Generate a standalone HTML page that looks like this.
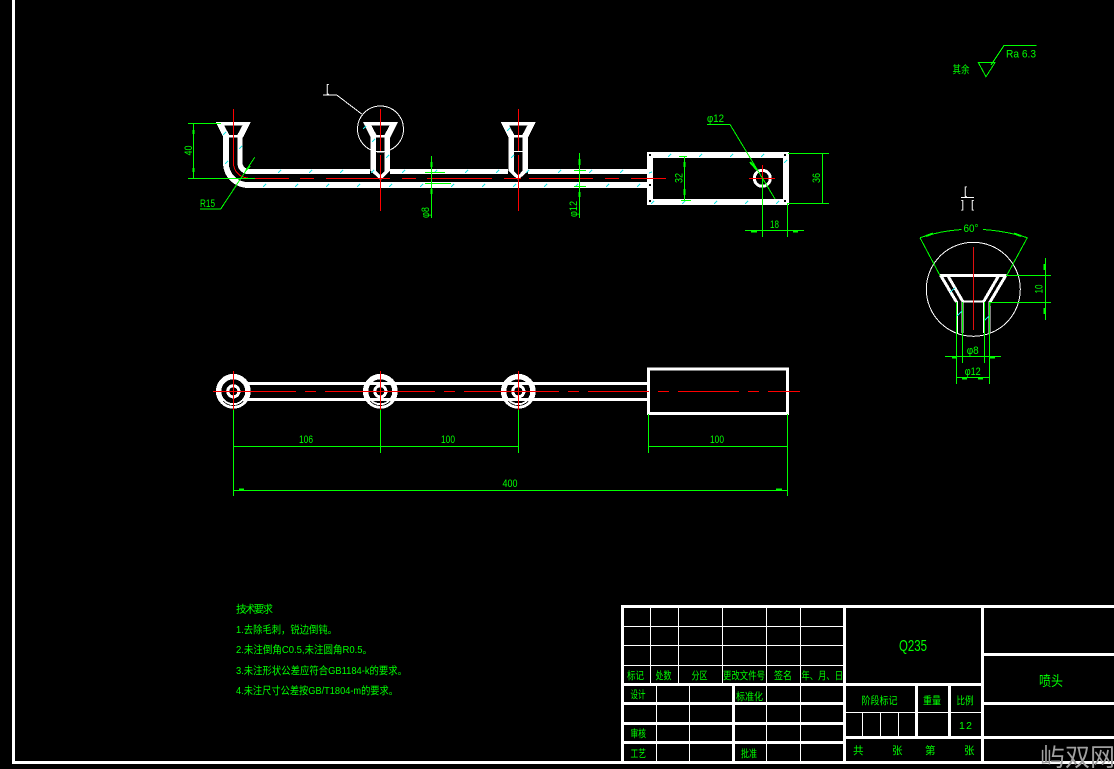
<!DOCTYPE html>
<html>
<head>
<meta charset="utf-8">
<style>
html,body{margin:0;padding:0;background:#000;width:1114px;height:769px;overflow:hidden}
svg{display:block}
text{font-family:"Liberation Sans","Noto Sans CJK SC",sans-serif;fill:#00ff00}
.c{font-size:10.5px}
.n{font-size:11px}
.w{fill:#fff}
</style>
</head>
<body>
<svg width="1114" height="769" viewBox="0 0 1114 769" xmlns="http://www.w3.org/2000/svg" shape-rendering="crispEdges">
<defs>
<g id="funnel">
  <path fill="#fff" fill-rule="evenodd" d="M-17.5 122H17.5L9.8 137.5H-9.8ZM-9 125.7H9L4 135H-4Z"/>
</g>
<g id="ctube">
  <rect x="-9.8" y="137" width="5.3" height="34" fill="#fff"/>
  <rect x="4" y="137" width="5.5" height="34" fill="#fff"/>
  <path d="M-9.8 171L0 180L9.5 171L4 171L0 175.5L-4.5 171Z" fill="#fff"/>
  <rect x="-5" y="151" width="10" height="1" fill="#fff"/>
</g>
<g id="hub">
  <circle r="14.7" fill="none" stroke="#fff" stroke-width="5.4"/>
  <path d="M-10 10A14 14 0 0 0 10 10" fill="none" stroke="#000" stroke-width="0.8"/>
  <circle r="5.6" fill="none" stroke="#fff" stroke-width="3"/>
</g>
</defs>
<rect width="1114" height="769" fill="#000"/>

<!-- frame -->
<rect x="12" y="0" width="3" height="764" fill="#fff"/>
<rect x="12" y="761" width="1102" height="3" fill="#fff"/>

<!-- top view: pipe -->
<g fill="none" stroke="#fff">
  <path stroke-width="5.8" d="M226 137V163A22 22 0 0 0 248 185H648"/>
  <path stroke-width="5.2" d="M240 137V163A8.5 8.5 0 0 0 248 171.5H648"/>
</g>
<rect x="370" y="160" width="20" height="14" fill="#000"/>
<rect x="508" y="160" width="20" height="14" fill="#000"/>
<use href="#funnel" x="233.3"/>
<use href="#funnel" x="380.5"/>
<use href="#funnel" x="518.3"/>
<use href="#ctube" x="380.5"/>
<use href="#ctube" x="518.3"/>
<!-- box -->
<rect x="650" y="155" width="136" height="47" fill="none" stroke="#fff" stroke-width="6"/>
<rect x="653" y="174" width="1" height="8" fill="#000"/>
<circle cx="762.3" cy="178.3" r="8" fill="none" stroke="#fff" stroke-width="3"/>
<g fill="#000">
<rect x="649" y="154" width="2" height="2"/><rect x="784" y="154" width="2" height="2"/>
<rect x="649" y="200" width="2" height="2"/><rect x="784" y="200" width="2" height="2"/>
<rect x="649" y="184" width="2" height="2"/>
</g>

<!-- hatch ticks -->
<g stroke="#19e6e6" stroke-width="1" fill="none">
<path d="M278 173l3-3M309 173l3-3M340 173l3-3M371 173l3-3M402 173l3-3M434 173l3-3M465 173l3-3M496 173l3-3M526 173l3-3M558 173l3-3M589 173l3-3M620 173l3-3"/>
<path d="M263 187l3-3M295 187l3-3M326 187l3-3M357 187l3-3M389 187l3-3M420 187l3-3M451 187l3-3M482 187l3-3M513 187l3-3M544 187l3-3M575 187l3-3M606 187l3-3M637 187l3-3"/>
<path d="M668 157l3-3M699 157l3-3M730 157l3-3M761 157l3-3M651 204l3-3M682 204l3-3M714 204l3-3M745 204l3-3M776 204l3-3M784 163l3-3M649 173l3-1"/>
<path d="M223 135l3-3M239 149l3-3M225 164l3-3M372 142l3-3M386 158l3-3M507 131l3-3M511 158l3-3M363 129l3-3"/>
</g>

<!-- top view red centre lines -->
<g stroke="#ff0000" stroke-width="1" fill="none">
<path d="M233.5 109V163A15 15 0 0 0 248 178"/>
</g>
<g fill="#ff0000">
<rect x="255" y="178" width="34" height="1"/><rect x="300" y="178" width="14" height="1"/>
<rect x="326" y="178" width="64" height="1"/><rect x="402" y="178" width="14" height="1"/>
<rect x="427" y="178" width="65" height="1"/><rect x="504" y="178" width="14" height="1"/>
<rect x="518" y="178" width="3" height="1"/>
<rect x="529" y="178" width="64" height="1"/><rect x="605" y="178" width="14" height="1"/>
<rect x="631" y="178" width="35" height="1"/>
<rect x="380" y="109" width="1" height="42"/><rect x="380" y="155" width="1" height="56"/>
<rect x="518" y="109" width="1" height="42"/><rect x="518" y="155" width="1" height="56"/>
<rect x="749" y="178" width="26" height="1"/><rect x="762" y="165" width="1" height="14"/>
</g>

<!-- section detail circle and leader -->
<g fill="none" stroke="#fff" stroke-width="1">
<circle cx="380.5" cy="129" r="23"/>
<path d="M323 95H336.7L361.7 114"/>
</g>
<text class="w" x="326" y="92" font-size="11">[</text>

<!-- top view dims -->
<g stroke="#00ff00" stroke-width="1" fill="none">
<path d="M188 123.5H221M188 178.5H255M193.5 123V178"/>
<path d="M200 209H220.7L254.7 157.3"/>
<path d="M431.5 156V218M425 172.5H445M425 183.5H451"/>
<path d="M579.5 153V218M574 170.5H586M574 186.5H586"/>
<path d="M684.5 156V200M679 156.5H687M681 200.5H691"/>
<path d="M707 124.5H730L775 199"/>
<path d="M788 153.5H829M787 203.5H829M822.5 153V203"/>
<path d="M745 230.5H804M762.5 178V237M787.5 203V237"/>
</g>
<g stroke="#00ff00" stroke-width="2" fill="none">
<path d="M193.5 130V134M193.5 168V172M431.5 162V167M431.5 189V194M579.5 159V165M579.5 192V197M684.5 162V167M684.5 189V195M751 231.5H757M793 231.5H798M750 162L757 170M246 170L250 166"/>
</g>
<text class="n" transform="translate(192 150.5) rotate(-90)" text-anchor="middle" textLength="10" lengthAdjust="spacingAndGlyphs">40</text>
<text class="n" x="200" y="207" textLength="15" lengthAdjust="spacingAndGlyphs">R15</text>
<text class="n" transform="translate(429 212.5) rotate(-90)" text-anchor="middle" textLength="11" lengthAdjust="spacingAndGlyphs">φ8</text>
<text class="n" transform="translate(577 209) rotate(-90)" text-anchor="middle" textLength="16" lengthAdjust="spacingAndGlyphs">φ12</text>
<text class="n" transform="translate(682.5 178) rotate(-90)" text-anchor="middle" textLength="10" lengthAdjust="spacingAndGlyphs">32</text>
<text class="n" transform="translate(820 178) rotate(-90)" text-anchor="middle" textLength="10" lengthAdjust="spacingAndGlyphs">36</text>
<text class="n" x="707" y="122" textLength="17" lengthAdjust="spacingAndGlyphs">φ12</text>
<text class="n" x="770" y="228" textLength="9" lengthAdjust="spacingAndGlyphs">18</text>

<!-- section view -->
<text class="w" x="964" y="194.5" font-size="11">[</text>
<rect x="961" y="197" width="13" height="1" fill="#fff"/>
<text class="w" x="961" y="208" font-size="11" textLength="13" lengthAdjust="spacing">] [</text>

<g fill="none" stroke="#fff" stroke-width="1"><circle cx="973.3" cy="289.3" r="47"/></g>
<g fill="none" stroke="#fff">
<path stroke-width="2.8" d="M939.5 275.5H1006.5"/>
<path stroke-width="3" d="M941 276L956.5 302M1005.5 276L990 302"/>
<path stroke-width="3" d="M948 276L962.5 301M998.5 276L984 301"/>
<path stroke-width="2" d="M957 301V333M989.7 301V333"/>
<path stroke-width="2" d="M962.3 301V333M984 301V333"/>
<path stroke-width="2.4" d="M962 301.5H984.5"/>
</g>
<path d="M957 316l5-5M984 321l5-5M950 292l5-4" stroke="#19e6e6" stroke-width="1" fill="none"/>
<rect x="973" y="247" width="1" height="83" fill="#e01010"/>
<g stroke="#00ff00" stroke-width="1" fill="none">
<path d="M920 237.7L940 275.5M1027.3 237.7L1006.7 275.5"/>
<path d="M920 237.7Q940 231 961.5 229.5M983 229.5Q1006 231 1027.3 237.7"/>
<path d="M1006 275.5H1051M990 302.5H1051M990 302V306M1045.5 258V320"/>
<path d="M962.5 302V363M984.5 302V363M945 356.5H1001"/>
<path d="M956.5 302V384M989.5 302V384M956 377.5H990"/>
</g>
<g stroke="#00ff00" stroke-width="2" fill="none">
<path d="M926 236L933 233.5M1014 233.5L1021 236M1044.5 264V270M1044.5 308V314M952 357.5H957M990 357.5H995M962 378.5H967M978 378.5H983"/>
</g>
<text class="n" x="971" y="232" text-anchor="middle" textLength="15" lengthAdjust="spacingAndGlyphs">60°</text>
<text class="n" transform="translate(1042.5 289) rotate(-90)" text-anchor="middle" textLength="9" lengthAdjust="spacingAndGlyphs">10</text>
<text class="n" x="972.7" y="354" text-anchor="middle" textLength="12" lengthAdjust="spacingAndGlyphs">φ8</text>
<text class="n" x="972.7" y="375" text-anchor="middle" textLength="16" lengthAdjust="spacingAndGlyphs">φ12</text>

<!-- roughness -->
<path d="M978.3 62.5H995L986 76.7ZM991 65L1004 45.5H1036.7" fill="none" stroke="#00ff00" stroke-width="1"/>
<text class="n" x="1006" y="57.5" textLength="30" lengthAdjust="spacingAndGlyphs">Ra 6.3</text>
<text class="c" x="952.5" y="73" textLength="17" lengthAdjust="spacingAndGlyphs">其余</text>

<!-- front view -->
<g fill="#fff">
<rect x="245" y="382" width="404" height="3"/>
<rect x="245" y="398" width="404" height="3"/>
</g>
<rect x="648.5" y="369" width="139" height="44.5" fill="none" stroke="#fff" stroke-width="2.6"/>
<use href="#hub" x="233.3" y="391.3"/>
<use href="#hub" x="380.3" y="391.3"/>
<use href="#hub" x="518.3" y="391.3"/>
<g fill="#ff0000">
<rect x="213" y="391" width="83" height="1"/><rect x="305" y="391" width="11" height="1"/>
<rect x="325" y="391" width="110" height="1"/><rect x="444" y="391" width="11" height="1"/>
<rect x="464" y="391" width="95" height="1"/><rect x="568" y="391" width="11" height="1"/>
<rect x="588" y="391" width="61" height="1"/><rect x="658" y="391" width="11" height="1"/>
<rect x="678" y="391" width="61" height="1"/><rect x="748" y="391" width="11" height="1"/>
<rect x="768" y="391" width="32" height="1"/>
<rect x="233" y="371" width="1" height="39"/>
<rect x="380" y="371" width="1" height="39"/>
<rect x="518" y="371" width="1" height="39"/>
</g>
<g stroke="#00ff00" stroke-width="1" fill="none">
<path d="M233.5 410V496M380.5 410V453M518.5 410V453M648.5 414V453M787.5 414V496"/>
<path d="M233 446.5H518.5M648 446.5H788M233 490.5H788"/>
</g>
<g stroke="#00ff00" stroke-width="2" fill="none"><path d="M239 489.5H244M776 489.5H782"/></g>
<text class="n" x="306" y="443" text-anchor="middle" textLength="14" lengthAdjust="spacingAndGlyphs">106</text>
<text class="n" x="448" y="443" text-anchor="middle" textLength="14" lengthAdjust="spacingAndGlyphs">100</text>
<text class="n" x="717" y="443" text-anchor="middle" textLength="14" lengthAdjust="spacingAndGlyphs">100</text>
<text class="n" x="510" y="487" text-anchor="middle" textLength="15" lengthAdjust="spacingAndGlyphs">400</text>

<!-- notes -->
<text class="c" x="236" y="612.5" textLength="37" lengthAdjust="spacing">技术要求</text>
<text class="c" x="236" y="633" textLength="101" lengthAdjust="spacingAndGlyphs">1.去除毛刺，锐边倒钝。</text>
<text class="c" x="236" y="653" textLength="136" lengthAdjust="spacingAndGlyphs">2.未注倒角C0.5,未注圆角R0.5。</text>
<text class="c" x="236" y="674" textLength="171" lengthAdjust="spacingAndGlyphs">3.未注形状公差应符合GB1184-k的要求。</text>
<text class="c" x="236" y="694" textLength="162" lengthAdjust="spacingAndGlyphs">4.未注尺寸公差按GB/T1804-m的要求。</text>

<!-- title block -->
<g fill="#fff">
<!-- thick -->
<rect x="621" y="605" width="493" height="3"/>
<rect x="621" y="605" width="3" height="159"/>
<rect x="843" y="605" width="3" height="159"/>
<rect x="981" y="605" width="3" height="159"/>
<rect x="621" y="683" width="360" height="3"/>
<rect x="621" y="702" width="224" height="3"/>
<rect x="621" y="722" width="224" height="3"/>
<rect x="621" y="741" width="224" height="3"/>
<rect x="732" y="683" width="3" height="81"/>
<rect x="846" y="736" width="268" height="3"/>
<rect x="984" y="653" width="130" height="3"/>
<rect x="984" y="702" width="130" height="3"/>
<rect x="915" y="686" width="3" height="50"/>
<rect x="948" y="686" width="3" height="50"/>
<!-- thin -->
<rect x="624" y="626" width="219" height="1"/>
<rect x="624" y="645" width="219" height="1"/>
<rect x="624" y="665" width="219" height="1"/>
<rect x="650" y="608" width="1" height="75"/>
<rect x="678" y="608" width="1" height="75"/>
<rect x="722" y="608" width="1" height="75"/>
<rect x="766" y="608" width="1" height="75"/>
<rect x="800" y="608" width="1" height="75"/>
<rect x="656" y="686" width="1" height="75"/>
<rect x="689" y="686" width="1" height="75"/>
<rect x="766" y="686" width="1" height="75"/>
<rect x="800" y="686" width="1" height="75"/>
<rect x="846" y="712" width="135" height="1"/>
<rect x="862" y="712" width="1" height="24"/>
<rect x="880" y="712" width="1" height="24"/>
<rect x="898" y="712" width="1" height="24"/>
</g>
<text class="c" x="627" y="679" textLength="17" lengthAdjust="spacingAndGlyphs">标记</text>
<text class="c" x="655.5" y="679" textLength="16" lengthAdjust="spacingAndGlyphs">处数</text>
<text class="c" x="691.5" y="679" textLength="16" lengthAdjust="spacingAndGlyphs">分区</text>
<text class="c" x="723" y="679" textLength="42" lengthAdjust="spacingAndGlyphs">更改文件号</text>
<text class="c" x="774" y="679" textLength="18" lengthAdjust="spacingAndGlyphs">签名</text>
<text class="c" x="801.5" y="679" textLength="41.5" lengthAdjust="spacingAndGlyphs">年、月、日</text>
<text class="c" x="630.5" y="698" textLength="15" lengthAdjust="spacingAndGlyphs">设计</text>
<text class="c" x="736" y="700" textLength="27" lengthAdjust="spacingAndGlyphs">标准化</text>
<text class="c" x="630.5" y="737" textLength="15.5" lengthAdjust="spacingAndGlyphs">审核</text>
<text class="c" x="630.5" y="757" textLength="15.5" lengthAdjust="spacingAndGlyphs">工艺</text>
<text class="c" x="741" y="757" textLength="16" lengthAdjust="spacingAndGlyphs">批准</text>
<text x="899" y="651" font-size="16" textLength="28" lengthAdjust="spacingAndGlyphs">Q235</text>
<text x="1039" y="686" font-size="14" textLength="24" lengthAdjust="spacingAndGlyphs">喷头</text>
<text class="c" x="861.5" y="704" textLength="36" lengthAdjust="spacingAndGlyphs">阶段标记</text>
<text class="c" x="923" y="704" textLength="18" lengthAdjust="spacingAndGlyphs">重量</text>
<text class="c" x="956.5" y="704" textLength="17" lengthAdjust="spacingAndGlyphs">比例</text>
<text class="c" x="959" y="729" textLength="13" lengthAdjust="spacing">1 2</text>
<text class="c" x="853" y="754">共</text>
<text class="c" x="892" y="754">张</text>
<text class="c" x="925" y="754">第</text>
<text class="c" x="964" y="754">张</text>

<!-- watermark -->
<text x="1040" y="766" font-size="25" style="fill:#a0a0a0;font-family:'WenQuanYi Zen Hei','Noto Sans CJK SC',sans-serif" textLength="75" lengthAdjust="spacing">屿双网</text>
</svg>
</body>
</html>
